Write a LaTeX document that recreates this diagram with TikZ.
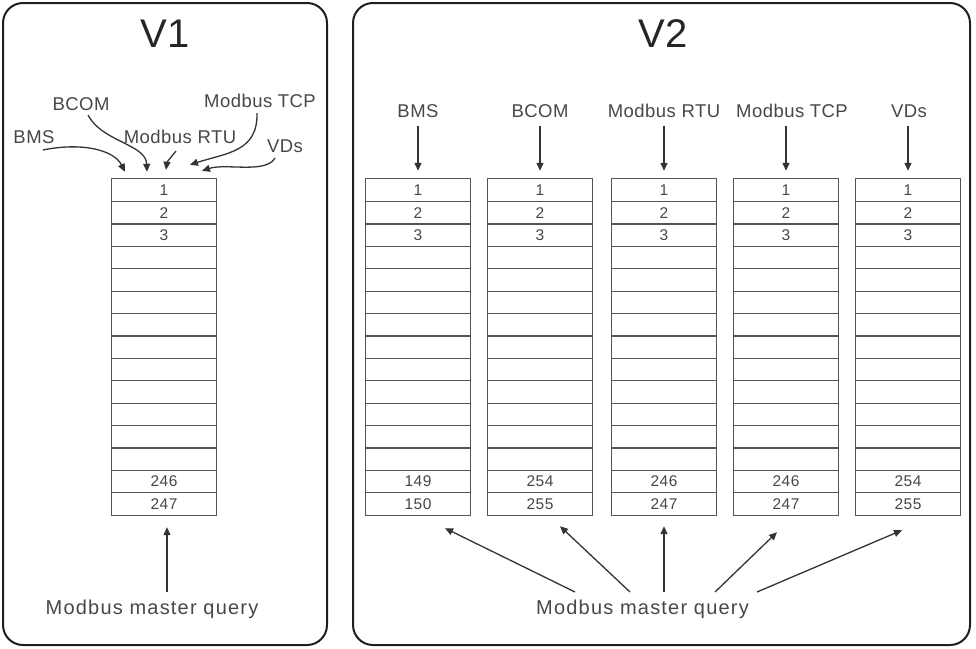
\documentclass[tikz,border=0pt]{standalone}
\usepackage{fontspec}
\setmainfont{Liberation Sans}
\usetikzlibrary{arrows.meta,calc}
\definecolor{ink}{HTML}{333333}
\definecolor{txt}{HTML}{474747}
\definecolor{grid}{HTML}{555555}
\begin{document}
\begin{tikzpicture}[x=1pt,y=-1pt,
  panel/.style={draw=black!88,line width=2pt,rounded corners=20pt,inner sep=0pt},
  cell/.style={minimum width=104pt,minimum height=22.4pt,inner sep=0pt,font=\fontsize{15.5}{15.5}\selectfont\addfontfeatures{LetterSpace=3},text=txt},
  gridline/.style={draw=grid,line width=1.1pt},
  lbl/.style={font=\fontsize{18.5}{18.5}\selectfont\addfontfeatures{LetterSpace=2.5},text=txt,inner sep=1pt,text height=13pt,text depth=0pt},
  qry/.style={font=\fontsize{20}{20}\selectfont\addfontfeatures{LetterSpace=6},text=txt,inner sep=1pt},
  ttl/.style={font=\fontsize{40}{40}\selectfont,text=black!85},
  arr/.style={draw=ink,line width=1.3pt,-{Triangle[length=8pt,width=7pt]}}]
\useasboundingbox (0,0) rectangle (976,648);
% panels
\node[panel,minimum width=324pt,minimum height=642pt] (P1) at (165,324) {};
\node[panel,minimum width=617pt,minimum height=642pt] (P2) at (661.5,324) {};
\node[ttl] (V1) at (165,34) {V1};
\node[ttl] (V2) at (663,34) {V2};
% tables
\foreach \t/\x/\a/\b in {0/164/246/247,1/418/149/150,2/540/254/255,3/664/246/247,4/786/246/247,5/908/254/255}{
  \foreach \i in {1,2,3}{\node[cell] (T\t-\i) at (\x,{179+22.4*(\i-0.5)}) {\i};}
  \foreach \i in {4,...,13}{\node[cell] (T\t-\i) at (\x,{179+22.4*(\i-0.5)}) {};}
  \node[cell] (T\t-14) at (\x,{179+22.4*13.5}) {\a};
  \node[cell] (T\t-15) at (\x,{179+22.4*14.5}) {\b};
  \draw[gridline] (T\t-1.north west) rectangle (T\t-15.south east);
  \foreach \i in {1,...,14}{\draw[gridline] (T\t-\i.south west) -- (T\t-\i.south east);}
}
% V1 labels
\node[lbl] (A1) at (34,137) {BMS};
\node[lbl] (A2) at (81,104) {BCOM};
\node[lbl] (A3) at (180,137) {Modbus RTU};
\node[lbl] (A4) at (260,101) {Modbus TCP};
\node[lbl] (A5) at (285,146) {VDs};
\coordinate (s1) at (43,150);
\coordinate (s2) at (88,115);
\coordinate (s3) at (176,151);
\coordinate (s4) at (257,113);
\coordinate (s5) at (275,158);
\coordinate (e1) at ($(T0-1.north)+(-39,-7)$);
\coordinate (e2) at ($(T0-1.north)+(-17,-7)$);
\coordinate (e3) at ($(T0-1.north)+(2,-9)$);
\coordinate (e4) at ($(T0-1.north)+(26,-14)$);
\coordinate (e5) at ($(T0-1.north)+(38,-8)$);
\draw[arr] (s1) .. controls (82,142) and (114,150) .. (e1);
\draw[arr] (s2) .. controls (102,142) and (146,144) .. (e2);
\draw[arr] (s3) .. controls (172,156) and (167,162) .. (e3);
\draw[arr] (s4) .. controls (258,152) and (226,153) .. (e4);
\draw[arr] (s5) .. controls (266,174) and (226,163) .. (e5);
% V1 bottom
\node[qry] (Q1) at (152,609) {Modbus master query};
\coordinate (q1) at (167,592);
\draw[arr,shorten >=12pt] (q1) -- (T0-15.south -| q1);
% V2 top labels
\node[lbl] (B1) at (418,111) {BMS};
\node[lbl] (B2) at (540,111) {BCOM};
\node[lbl] (B3) at (664,111) {Modbus RTU};
\node[lbl] (B4) at (792,111) {Modbus TCP};
\node[lbl] (B5) at (909,111) {VDs};
\foreach \k in {1,...,5}{
  \draw[arr,shorten <=7pt,shorten >=8pt] (B\k.south -| T\k-1.north) -- (T\k-1.north);
}
% V2 bottom
\node[qry] (Q2) at (642.5,609) {Modbus master query};
\coordinate (r1) at (575,592);
\coordinate (r2) at (630,592);
\coordinate (r3) at (664,592);
\coordinate (r4) at (715,592);
\coordinate (r5) at (757,592);
\coordinate (u1) at ($(T1-15.south)+(27,13)$);
\coordinate (u2) at ($(T2-15.south)+(20,11)$);
\coordinate (u3) at ($(T3-15.south)+(0,11)$);
\coordinate (u4) at ($(T4-15.south)+(-9,17)$);
\coordinate (u5) at ($(T5-15.south)+(-6,15)$);
\foreach \k in {1,...,5}{\draw[arr] (r\k) -- (u\k);}
\end{tikzpicture}
\end{document}
